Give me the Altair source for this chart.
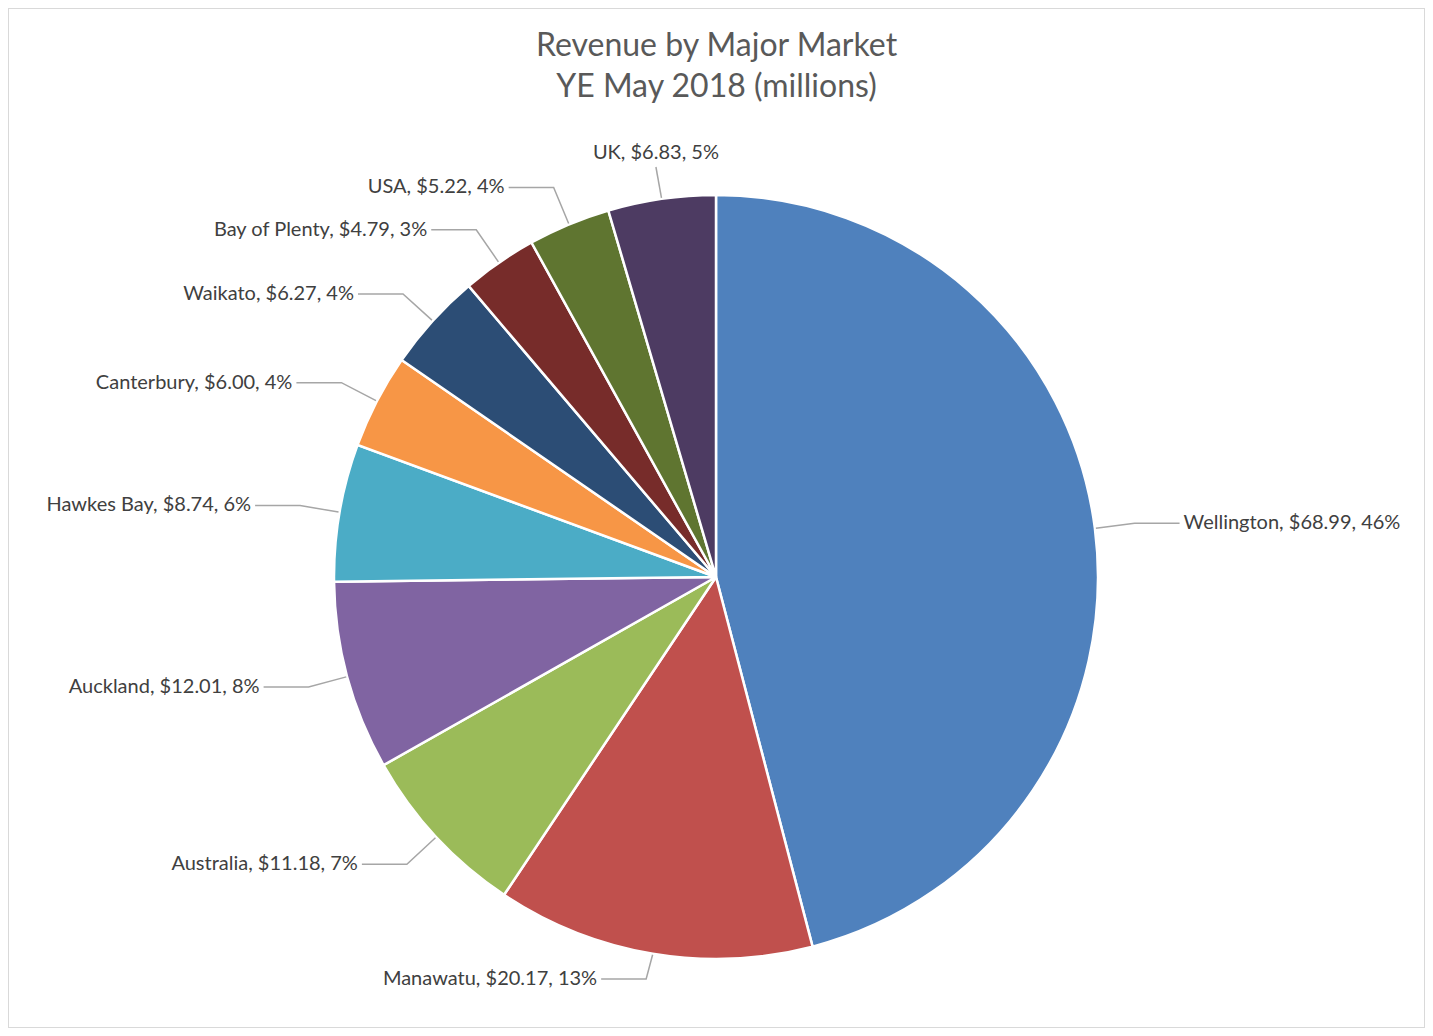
import altair as alt
import numpy as np
import pandas as pd

# ---- data ----
markets = ["Wellington", "Manawatu", "Australia", "Auckland", "Hawkes Bay",
           "Canterbury", "Waikato", "Bay of Plenty", "USA", "UK"]
revenue = [68.99, 20.17, 11.18, 12.01, 8.74, 6.00, 6.27, 4.79, 5.22, 6.83]
percent = [46, 13, 7, 8, 6, 4, 4, 3, 4, 5]
colors = ["#4F81BD", "#C0504D", "#9BBB59", "#8064A2", "#4BACC6",
          "#F79646", "#2C4D75", "#772C2A", "#5F7530", "#4D3B62"]
title_lines = ["Revenue by Major Market", "YE May 2018 (millions)"]

# ---- layout ----
W, H = 1417, 1020          # view size (pixels)
CX, CY = 708, 569          # pie centre inside the view
R = 382                    # pie radius
GAP = 40                   # radial length of leader line
TAIL = 45                  # horizontal tail of leader line
FONT = "Lato"

df = pd.DataFrame({"market": markets, "revenue": revenue, "pct": percent,
                   "idx": list(range(len(markets)))})
df["label"] = [f"{m}, ${v:.2f}, {p}%" for m, v, p in zip(markets, revenue, percent)]

total = df["revenue"].sum()
start = df["revenue"].cumsum() - df["revenue"]
mid = (start + df["revenue"] / 2) / total * 2 * np.pi
s, c = np.sin(mid.values), np.cos(mid.values)

x0, y0 = (R + 1) * s, (R + 1) * c
x1, y1 = (R + GAP) * s, (R + GAP) * c
y1 = np.clip(y1, -(R + 20), R + 28)
side = np.where(s > 0.15, "right", np.where(s < -0.15, "left",
                np.where(c > 0, "top", "bottom")))
x2 = np.where(side == "right", x1 + TAIL, np.where(side == "left", x1 - TAIL, x1))
y2 = y1

rows = []
for i, m in enumerate(markets):
    rows.append({"market": m, "k": 0, "x": x0[i], "y": y0[i]})
    rows.append({"market": m, "k": 1, "x": x1[i], "y": y1[i]})
    rows.append({"market": m, "k": 2, "x": x2[i], "y": y2[i]})
lines_df = pd.DataFrame(rows)

lab = df[["market", "label"]].copy()
lab["x"], lab["y"], lab["side"] = x2, y2, side

xs = alt.Scale(domain=[-CX, W - CX], nice=False, zero=False)
ys = alt.Scale(domain=[-(H - CY), CY], nice=False, zero=False)

pie = alt.Chart(df).mark_arc(outerRadius=R, stroke="white", strokeWidth=2.5).encode(
    theta=alt.Theta("revenue:Q", stack=True),
    order=alt.Order("idx:Q"),
    color=alt.Color("market:N", scale=alt.Scale(domain=markets, range=colors), legend=None),
    x=alt.datum(0, scale=xs, axis=None),
    y=alt.datum(0, scale=ys, axis=None),
)

leaders = alt.Chart(lines_df).mark_line(color="#A6A6A6", strokeWidth=1.5).encode(
    x=alt.X("x:Q", scale=xs, axis=None),
    y=alt.Y("y:Q", scale=ys, axis=None),
    detail="market:N",
    order="k:Q",
)

def text_layer(sd, align, baseline, dx, dy):
    return alt.Chart(lab).transform_filter(alt.datum.side == sd).mark_text(
        align=align, baseline=baseline, dx=dx, dy=dy,
        font=FONT, fontSize=20, color="#404040",
    ).encode(
        x=alt.X("x:Q", scale=xs, axis=None),
        y=alt.Y("y:Q", scale=ys, axis=None),
        text="label:N",
    )

texts = [
    text_layer("right", "left", "middle", 4, 0),
    text_layer("left", "right", "middle", -4, 0),
    text_layer("top", "center", "bottom", 0, -4),
    text_layer("bottom", "center", "top", 0, 4),
]

chart = alt.layer(pie, leaders, *texts).properties(
    width=W, height=H,
    title=alt.TitleParams(text=title_lines, font=FONT, fontSize=32, fontWeight="normal",
                          color="#595959", anchor="middle", frame="group",
                          offset=-96, lineHeight=41),
    autosize=alt.AutoSizeParams(type="none"),
    padding=0,
).configure_view(stroke="#D9D9D9", strokeWidth=2)

chart.save("out.html", embed_options={"renderer": "svg", "actions": False})
